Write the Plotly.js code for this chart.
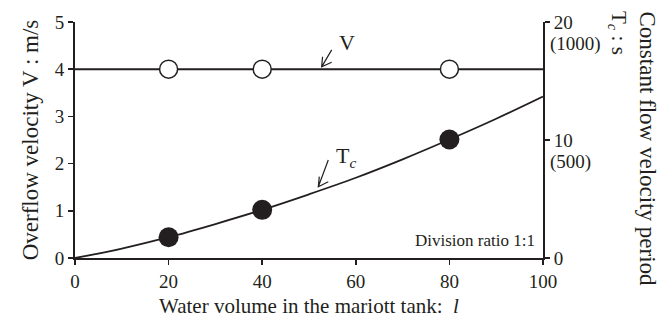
<!DOCTYPE html>
<html>
<head>
<meta charset="utf-8">
<script src="https://cdn.plot.ly/plotly-3.0.1.min.js"></script>
<style>html,body{margin:0;padding:0;background:#fff;}#chart{width:668px;height:321px;}</style>
</head>
<body>
<div id="chart"></div>
<script>
// Data
const volumePoints = [20, 40, 80];
const velocityV = [4, 4, 4];
const velocityLineX = [0, 100];
const velocityLineY = [4, 4];
const periodTc = [1.76, 4.08, 10.04];           // T_c in right-axis units
const curveX = [0, 10, 20, 30, 40, 50, 60, 70, 80, 90, 100];
const curveTc = [0, 0.8, 1.76, 2.88, 4.08, 5.4, 6.8, 8.36, 10.04, 11.8, 13.68];
const xTicks = [0, 20, 40, 60, 80, 100];
const leftTicks = [0, 1, 2, 3, 4, 5];
const rightTicks = [0, 10, 20];
const rightTickText = ['0', '10', '20'];
const rightSubTicks = [10, 20];
const rightSubText = ['(500)', '(1000)'];

const ink = '#231f20';
const serif = "'Liberation Serif', 'Times New Roman', serif";

const traces = [
  {x: velocityLineX, y: velocityLineY, mode: 'lines', line: {color: ink, width: 2}, yaxis: 'y', hoverinfo: 'skip'},
  {x: curveX, y: curveTc, mode: 'lines', line: {color: ink, width: 1.8, shape: 'spline'}, yaxis: 'y2'},
  {x: volumePoints, y: velocityV, mode: 'markers', yaxis: 'y',
   marker: {size: 18, color: '#ffffff', line: {color: ink, width: 1.5}}},
  {x: volumePoints, y: periodTc, mode: 'markers', yaxis: 'y2',
   marker: {size: 20, color: ink, line: {color: ink, width: 0}}}
];

function arrow(tipX, tipY, tailX, tailY, a1x, a1y, a2x, a2y) {
  return {type: 'path', xref: 'x', yref: 'y',
    path: `M${tailX},${tailY} L${tipX},${tipY} M${a1x},${a1y} L${tipX},${tipY} L${a2x},${a2y}`,
    line: {color: ink, width: 1.2}};
}

const annotations = [
  {xref: 'x', yref: 'y', x: 58.1, y: 4.56, text: 'V', showarrow: false, font: {family: serif, size: 22, color: ink}},
  {xref: 'x', yref: 'y', x: 57.8, y: 2.14, text: 'T<sub><i>c</i></sub>', showarrow: false, font: {family: serif, size: 22, color: ink}},
  {xref: 'x', yref: 'y', x: 98.8, y: 0.38, xanchor: 'right', text: 'Division ratio 1:1', showarrow: false, font: {family: serif, size: 17, color: ink}},
  {xref: 'paper', yref: 'paper', x: 1.0 + 104/468, y: 1.0 + 13/236, xanchor: 'center', yanchor: 'top',
   text: 'Constant flow velocity period', textangle: 90, showarrow: false, font: {family: serif, size: 23, color: ink}},
  {xref: 'paper', yref: 'paper', x: 1.0 + 75/468, y: 1.0 + 13/236, xanchor: 'center', yanchor: 'top',
   text: 'T<sub><i>c</i></sub> : s', textangle: 90, showarrow: false, font: {family: serif, size: 21, color: ink}}
];
rightSubTicks.forEach((v, i) => {
  annotations.push({xref: 'paper', yref: 'y2', x: 1.0 + 5/468, y: v, xanchor: 'left', yanchor: 'top', yshift: -9,
    text: rightSubText[i], showarrow: false, font: {family: serif, size: 19, color: ink}});
});

const layout = {
  width: 668, height: 321,
  margin: {l: 75, r: 125, t: 22, b: 63},
  paper_bgcolor: '#ffffff', plot_bgcolor: '#ffffff',
  showlegend: false,
  font: {family: serif, color: ink, size: 19},
  xaxis: {
    range: [0, 100], tickvals: xTicks, ticks: 'outside', ticklen: 5, tickwidth: 1.5, tickcolor: ink,
    showline: true, linecolor: ink, linewidth: 2, showgrid: false, zeroline: false,
    tickfont: {family: serif, size: 19, color: ink},
    title: {text: 'Water volume in the mariott tank:  <i>l</i>', font: {family: serif, size: 21, color: ink}, standoff: 8}
  },
  yaxis: {
    range: [0, 5], tickvals: leftTicks, ticks: 'outside', ticklen: 5, tickwidth: 1.5, tickcolor: ink,
    showline: true, linecolor: ink, linewidth: 2, showgrid: false, zeroline: false,
    tickfont: {family: serif, size: 19, color: ink},
    title: {text: 'Overflow velocity V : m/s', font: {family: serif, size: 23, color: ink}, standoff: 10}
  },
  yaxis2: {
    range: [0, 20], overlaying: 'y', side: 'right', tickvals: rightTicks, ticktext: rightTickText,
    ticks: 'outside', ticklen: 5, tickwidth: 1.5, tickcolor: ink,
    showline: true, linecolor: ink, linewidth: 2, showgrid: false, zeroline: false,
    tickfont: {family: serif, size: 19, color: ink}
  },
  shapes: [
    arrow(52.7, 4.05, 54.85, 4.41, 52.9, 4.265, 54.85, 4.146),
    arrow(51.99, 1.511, 54.12, 2.076, 52.2, 1.723, 54.12, 1.617)
  ],
  annotations: annotations
};

Plotly.newPlot('chart', traces, layout, {displayModeBar: false, staticPlot: true});
</script>
</body>
</html>
